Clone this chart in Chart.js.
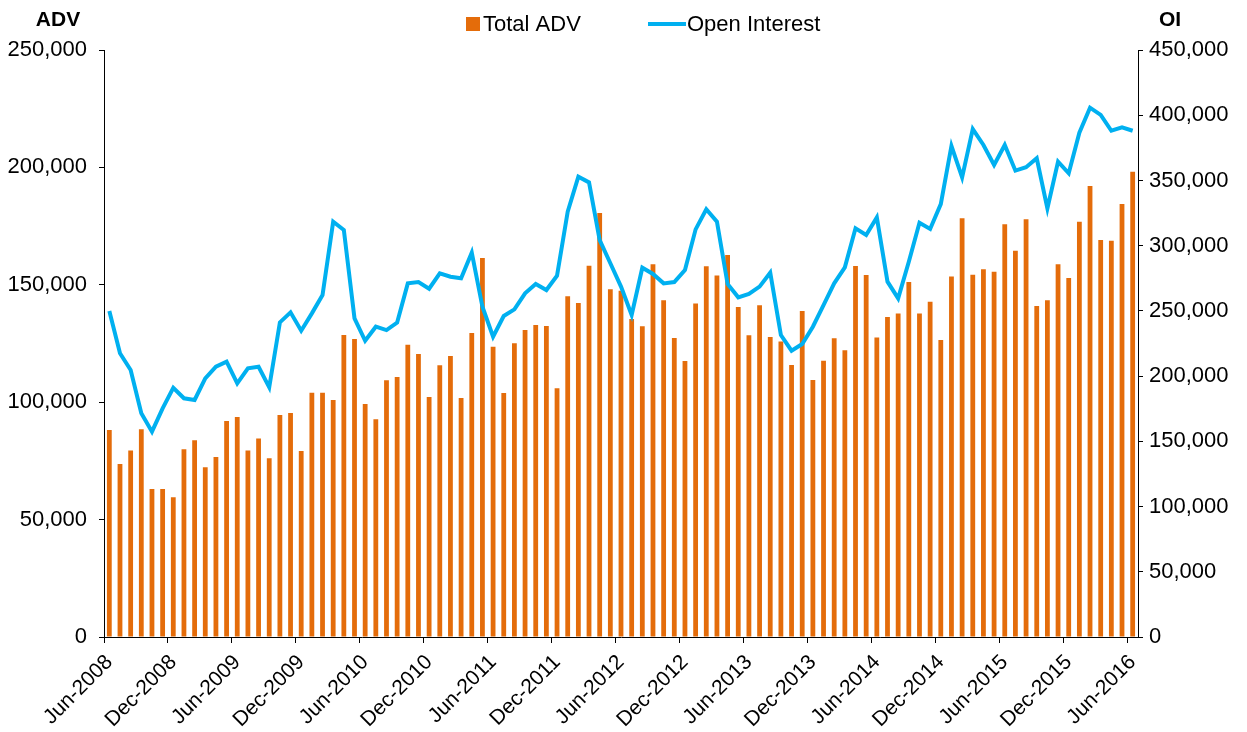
<!DOCTYPE html>
<html>
<head>
<meta charset="utf-8">
<script src="https://cdn.jsdelivr.net/npm/chart.js@4.4.1/dist/chart.umd.min.js"></script>
<style>
  html, body { margin: 0; padding: 0; background: #fff; }
  #wrap { width: 1247px; height: 732px; }
</style>
</head>
<body>
<div id="wrap"><canvas id="chart" width="1247" height="732"></canvas></div>
<script>
// ── Data (monthly, Jun-2008 .. Jun-2016) ──
const MONTHS = ['Jan', 'Feb', 'Mar', 'Apr', 'May', 'Jun', 'Jul', 'Aug', 'Sep', 'Oct', 'Nov', 'Dec'];
const labels = [];
for (let y = 2008; y <= 2016; y++) {
  MONTHS.forEach((m, i) => {
    if ((y === 2008 && i < 5) || (y === 2016 && i > 5)) return;
    labels.push(`${m}-${y}`);
  });
}

const totalADV = [
  88200, 73700, 79400, 88500, 63000, 63000, 59500,
  80000, 83800, 72300, 76700, 92000, 93700, 79400, 84500, 76100, 94600, 95400, 79200,
  104000, 104000, 100900, 128600, 126900, 99200, 92700, 109300, 110700, 124500, 120500, 102200,
  115700, 119700, 101800, 129500, 161400, 123600, 103900, 125100, 130700, 132900, 132500, 105900,
  145100, 142200, 158100, 180600, 148100, 147500, 135400, 132300, 158700, 143400, 127300, 117500,
  142000, 157900, 154000, 162700, 140500, 128500, 141300, 127800, 125800, 115800, 138800, 109500,
  117700, 127200, 122100, 158000, 154200, 127600, 136300, 137800, 151200, 137800, 142800, 126500,
  153500, 178300, 154300, 156600, 155600, 175800, 164500, 177900, 141000, 143400, 158700, 152900,
  176900, 192100, 169100, 168800, 184400, 198200
];

const openInterest = [
  250000, 217500, 204700, 171500, 157400, 175300, 191100,
  183000, 181700, 198300, 207200, 211100, 194500, 206000, 207200, 191400, 241200, 248900, 234800,
  248100, 262200, 318400, 312000, 244300, 227100, 237900, 235300, 241000, 271100, 272100, 267000,
  278800, 276200, 275000, 294600, 253200, 230200, 246100, 251200, 263500, 270600, 266000, 277000,
  326000, 352900, 348500, 304300, 286500, 268600, 246800, 283100, 278300, 271100, 272100, 281300,
  312500, 327900, 318400, 270600, 260400, 263000, 268600, 279300, 231500, 219500, 224600, 237900,
  254500, 271100, 283400, 313300, 308200, 321700, 272400, 259600, 287700, 317600, 312800, 331900,
  376400, 352400, 389400, 377200, 361800, 377200, 357500, 360100, 367000, 328600, 364400, 355500,
  386600, 405800, 400200, 388100, 390700, 388100
];

const ORANGE = '#E46C0A';
const BLUE   = '#00B0F0';
const FONT   = 'Arial, "Liberation Sans", sans-serif';

// ── Axis titles + legend drawn on top ──
const decor = {
  id: 'decor',
  afterDraw(chart) {
    const { ctx } = chart;
    ctx.save();
    ctx.fillStyle = '#000';
    ctx.textBaseline = 'middle';
    ctx.font = `bold 21px ${FONT}`;
    ctx.textAlign = 'center';
    ctx.fillText('ADV', 58, 20);
    ctx.fillText('OI', 1170, 20);

    ctx.font = `22px ${FONT}`;
    ctx.textAlign = 'left';
    ctx.fillStyle = ORANGE;
    ctx.fillRect(466, 17, 14, 14);
    ctx.fillStyle = '#000';
    ctx.fillText('Total ADV', 483, 25);
    ctx.strokeStyle = BLUE;
    ctx.lineWidth = 4;
    ctx.beginPath();
    ctx.moveTo(648, 24);
    ctx.lineTo(686, 24);
    ctx.stroke();
    ctx.fillText('Open Interest', 687, 25);
    ctx.restore();
  }
};

const fmt = v => v.toLocaleString('en-US');

new Chart(document.getElementById('chart'), {
  type: 'bar',
  data: {
    labels,
    datasets: [
      {
        type: 'line', label: 'Open Interest', data: openInterest, yAxisID: 'y1',
        borderColor: BLUE, borderWidth: 4, pointRadius: 0, tension: 0, order: 0
      },
      {
        type: 'bar', label: 'Total ADV', data: totalADV, yAxisID: 'y',
        backgroundColor: ORANGE, barPercentage: 0.45, categoryPercentage: 1, order: 1
      }
    ]
  },
  options: {
    responsive: false, animation: false, devicePixelRatio: 1,
    layout: { padding: { top: 50, left: 0, right: 0, bottom: 0 } },
    plugins: { legend: { display: false }, tooltip: { enabled: false } },
    scales: {
      x: {
        offset: true,
        grid: {
          offset: true, drawOnChartArea: false, tickLength: 6,
          color: c => (c.index % 6 === 0 ? '#000' : 'rgba(0,0,0,0)')
        },
        border: { color: '#000', width: 1 },
        ticks: {
          autoSkip: false, minRotation: 45, maxRotation: 45, padding: 7,
          color: '#000', font: { family: FONT, size: 21 },
          callback: (v, i) => (i % 6 === 0 ? labels[i] : '')
        },
        afterFit: s => { s.height = 95; }
      },
      y: {
        position: 'left', min: 0, max: 250000,
        grid: { drawOnChartArea: false, tickLength: 5, color: '#000' },
        border: { color: '#000', width: 1 },
        ticks: { stepSize: 50000, padding: 12, color: '#000', font: { family: FONT, size: 22 }, callback: fmt },
        afterFit: s => { s.width = 104; }
      },
      y1: {
        position: 'right', min: 0, max: 450000,
        grid: { drawOnChartArea: false, tickLength: 5, color: '#000' },
        border: { color: '#000', width: 1 },
        ticks: { stepSize: 50000, padding: 6, color: '#000', font: { family: FONT, size: 22 }, callback: fmt },
        afterFit: s => { s.width = 109; }
      }
    }
  },
  plugins: [decor]
});
</script>
</body>
</html>
